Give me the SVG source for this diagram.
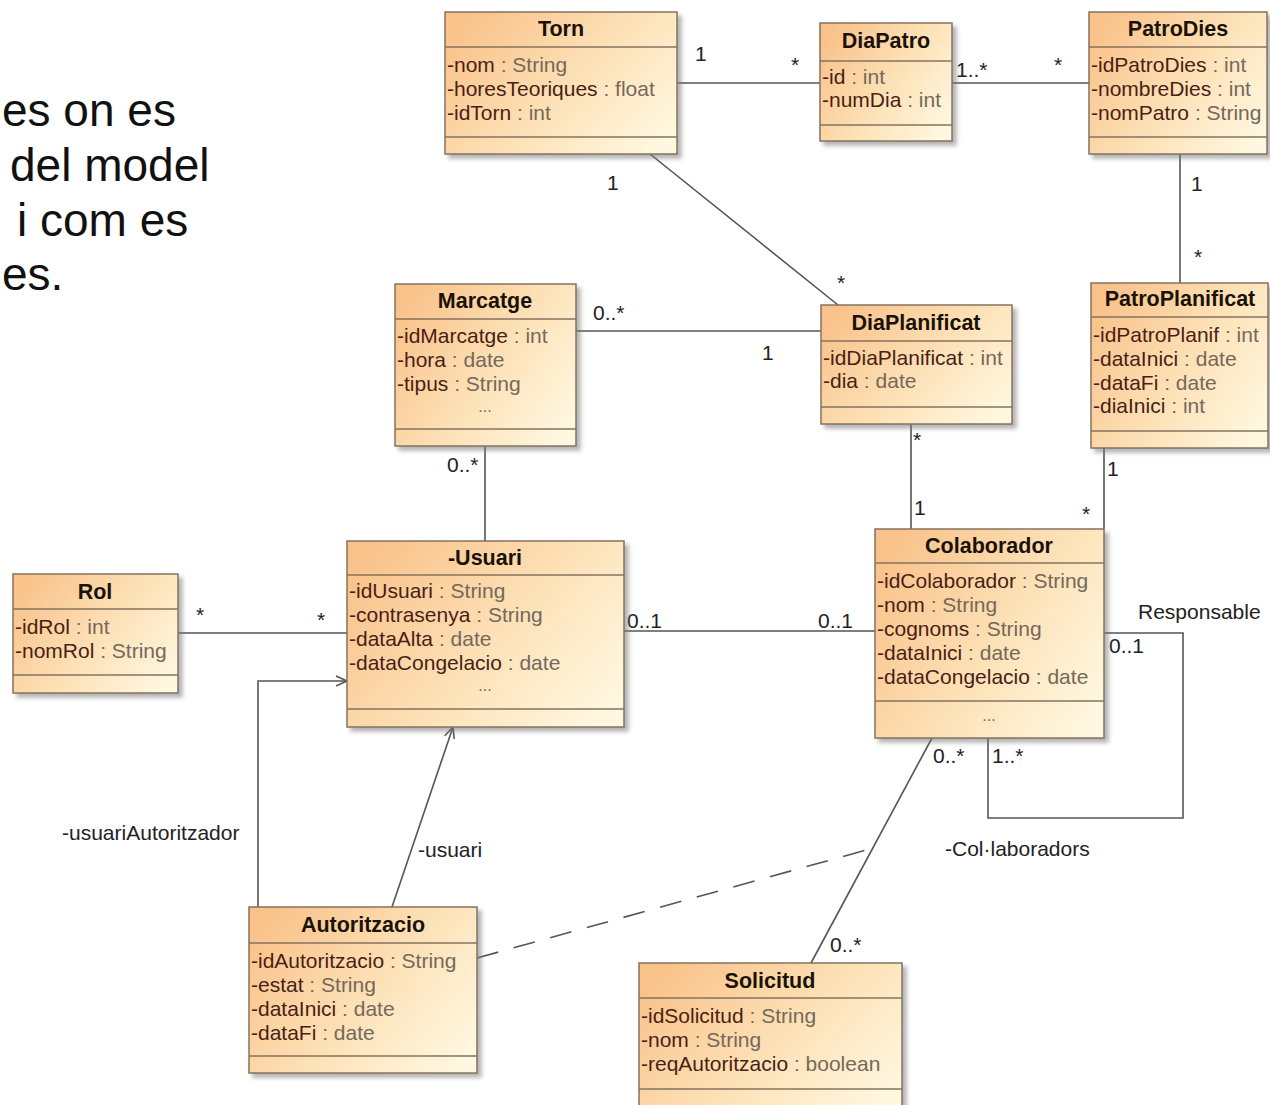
<svg xmlns="http://www.w3.org/2000/svg" width="1270" height="1105" viewBox="0 0 1270 1105">
<style>
.box{fill:url(#g);stroke:#85735f;stroke-width:1.5}
.sep{stroke:#85735f;stroke-width:1.5}
.ti{font-family:"Liberation Sans",Arial,sans-serif;font-weight:bold;font-size:21.5px;fill:#1a1208;text-anchor:middle}
.at{font-family:"Liberation Sans",Arial,sans-serif;font-size:21px}
.n{fill:#4a1e14}
.t{fill:#76685a}
.dots{font-family:"Liberation Sans",Arial,sans-serif;font-size:16px;fill:#76685a;text-anchor:middle}
.lb{font-family:"Liberation Sans",Arial,sans-serif;font-size:21px;fill:#222}
.ln{stroke:#555;stroke-width:1.6;fill:none}
.big{font-family:"Liberation Sans",Arial,sans-serif;font-size:46px;fill:#111}
</style>
<defs>
<linearGradient id="g" x1="0" y1="0.2" x2="1" y2="0.8">
<stop offset="0" stop-color="#f9c28a"/>
<stop offset="0.55" stop-color="#fde2b8"/>
<stop offset="1" stop-color="#fff7df"/>
</linearGradient>
<filter id="sh" x="-10%" y="-10%" width="130%" height="130%">
<feDropShadow dx="4" dy="4" stdDeviation="2" flood-color="#777" flood-opacity="0.55"/>
</filter>
<marker id="ar" markerWidth="14" markerHeight="14" refX="12" refY="6" orient="auto" markerUnits="userSpaceOnUse">
<path d="M1,1 L12,6 L1,11" fill="none" stroke="#555" stroke-width="1.6"/>
</marker>
</defs>
<rect width="1270" height="1105" fill="#fff"/>

<g id="intro">
<text class="big" x="2" y="126">es on es</text>
<text class="big" x="10" y="181">del model</text>
<text class="big" x="17" y="236">i com es</text>
<text class="big" x="2" y="290">es.</text>
</g>

<g id="connectors">
<line class="ln" x1="677" y1="83" x2="820" y2="83"/>
<text class="lb" x="695" y="61">1</text><text class="lb" x="791" y="72">*</text>
<line class="ln" x1="952" y1="83" x2="1089" y2="83"/>
<text class="lb" x="956" y="77">1..*</text><text class="lb" x="1054" y="72">*</text>
<line class="ln" x1="650" y1="154" x2="838" y2="305"/>
<text class="lb" x="607" y="190">1</text><text class="lb" x="837" y="290">*</text>
<line class="ln" x1="1180" y1="154" x2="1180" y2="283"/>
<text class="lb" x="1191" y="191">1</text><text class="lb" x="1194" y="264">*</text>
<line class="ln" x1="576" y1="331" x2="821" y2="331"/>
<text class="lb" x="593" y="320">0..*</text><text class="lb" x="762" y="360">1</text>
<line class="ln" x1="485" y1="446" x2="485" y2="541"/>
<text class="lb" x="447" y="472">0..*</text>
<line class="ln" x1="911" y1="424" x2="911" y2="529"/>
<text class="lb" x="913" y="447">*</text><text class="lb" x="914" y="515">1</text>
<line class="ln" x1="1104" y1="448" x2="1104" y2="529"/>
<text class="lb" x="1107" y="476">1</text><text class="lb" x="1082" y="521">*</text>
<line class="ln" x1="178" y1="633" x2="347" y2="633"/>
<text class="lb" x="196" y="622">*</text><text class="lb" x="317" y="627">*</text>
<line class="ln" x1="624" y1="631" x2="875" y2="631"/>
<text class="lb" x="627" y="628">0..1</text><text class="lb" x="818" y="628">0..1</text>
<polyline class="ln" points="1104,633 1183,633 1183,818 988,818 988,738"/>
<text class="lb" x="1138" y="619">Responsable</text>
<text class="lb" x="1109" y="653">0..1</text>
<text class="lb" x="992" y="763">1..*</text>
<text class="lb" x="945" y="856">-Col·laboradors</text>
<line class="ln" x1="932" y1="738" x2="811" y2="963"/>
<text class="lb" x="933" y="763">0..*</text>
<text class="lb" x="830" y="952">0..*</text>
<line class="ln" x1="477" y1="958" x2="870" y2="849" stroke-dasharray="22 16"/>
<polyline class="ln" points="258,907 258,681 347,681" marker-end="url(#ar)"/>
<text class="lb" x="62" y="840">-usuariAutoritzador</text>
<line class="ln" x1="392" y1="907" x2="453" y2="727" marker-end="url(#ar)"/>
<text class="lb" x="418" y="857">-usuari</text>
</g>

<g id="Torn">
<rect class="box" x="445" y="12" width="232" height="142" filter="url(#sh)"/>
<line class="sep" x1="445" y1="47" x2="677" y2="47"/><line class="sep" x1="445" y1="137" x2="677" y2="137"/>
<text class="ti" x="561" y="36">Torn</text>
<text class="at" x="447" y="72"><tspan class="n">-nom</tspan><tspan class="t"> : String</tspan></text>
<text class="at" x="447" y="96"><tspan class="n">-horesTeoriques</tspan><tspan class="t"> : float</tspan></text>
<text class="at" x="447" y="120"><tspan class="n">-idTorn</tspan><tspan class="t"> : int</tspan></text>
</g>

<g id="DiaPatro">
<rect class="box" x="820" y="23" width="132" height="118" filter="url(#sh)"/>
<line class="sep" x1="820" y1="61" x2="952" y2="61"/><line class="sep" x1="820" y1="125" x2="952" y2="125"/>
<text class="ti" x="886" y="48">DiaPatro</text>
<text class="at" x="822" y="84"><tspan class="n">-id</tspan><tspan class="t"> : int</tspan></text>
<text class="at" x="822" y="107"><tspan class="n">-numDia</tspan><tspan class="t"> : int</tspan></text>
</g>

<g id="PatroDies">
<rect class="box" x="1089" y="12" width="178" height="142" filter="url(#sh)"/>
<line class="sep" x1="1089" y1="47" x2="1267" y2="47"/><line class="sep" x1="1089" y1="137" x2="1267" y2="137"/>
<text class="ti" x="1178" y="36">PatroDies</text>
<text class="at" x="1091" y="72"><tspan class="n">-idPatroDies</tspan><tspan class="t"> : int</tspan></text>
<text class="at" x="1091" y="96"><tspan class="n">-nombreDies</tspan><tspan class="t"> : int</tspan></text>
<text class="at" x="1091" y="120"><tspan class="n">-nomPatro</tspan><tspan class="t"> : String</tspan></text>
</g>

<g id="Marcatge">
<rect class="box" x="395" y="284" width="181" height="162" filter="url(#sh)"/>
<line class="sep" x1="395" y1="319" x2="576" y2="319"/><line class="sep" x1="395" y1="429" x2="576" y2="429"/>
<text class="ti" x="485" y="308">Marcatge</text>
<text class="at" x="397" y="343"><tspan class="n">-idMarcatge</tspan><tspan class="t"> : int</tspan></text>
<text class="at" x="397" y="367"><tspan class="n">-hora</tspan><tspan class="t"> : date</tspan></text>
<text class="at" x="397" y="391"><tspan class="n">-tipus</tspan><tspan class="t"> : String</tspan></text>
<text class="dots" x="485" y="412">...</text>
</g>

<g id="DiaPlanificat">
<rect class="box" x="821" y="305" width="191" height="119" filter="url(#sh)"/>
<line class="sep" x1="821" y1="341" x2="1012" y2="341"/><line class="sep" x1="821" y1="407" x2="1012" y2="407"/>
<text class="ti" x="916" y="330">DiaPlanificat</text>
<text class="at" x="823" y="365"><tspan class="n">-idDiaPlanificat</tspan><tspan class="t"> : int</tspan></text>
<text class="at" x="823" y="388"><tspan class="n">-dia</tspan><tspan class="t"> : date</tspan></text>
</g>

<g id="PatroPlanificat">
<rect class="box" x="1091" y="283" width="177" height="165" filter="url(#sh)"/>
<line class="sep" x1="1091" y1="317" x2="1268" y2="317"/><line class="sep" x1="1091" y1="431" x2="1268" y2="431"/>
<text class="ti" x="1180" y="306">PatroPlanificat</text>
<text class="at" x="1093" y="342"><tspan class="n">-idPatroPlanif</tspan><tspan class="t"> : int</tspan></text>
<text class="at" x="1093" y="366"><tspan class="n">-dataInici</tspan><tspan class="t"> : date</tspan></text>
<text class="at" x="1093" y="390"><tspan class="n">-dataFi</tspan><tspan class="t"> : date</tspan></text>
<text class="at" x="1093" y="413"><tspan class="n">-diaInici</tspan><tspan class="t"> : int</tspan></text>
</g>

<g id="Rol">
<rect class="box" x="13" y="574" width="165" height="119" filter="url(#sh)"/>
<line class="sep" x1="13" y1="609" x2="178" y2="609"/><line class="sep" x1="13" y1="675" x2="178" y2="675"/>
<text class="ti" x="95" y="599">Rol</text>
<text class="at" x="15" y="634"><tspan class="n">-idRol</tspan><tspan class="t"> : int</tspan></text>
<text class="at" x="15" y="658"><tspan class="n">-nomRol</tspan><tspan class="t"> : String</tspan></text>
</g>

<g id="Usuari">
<rect class="box" x="347" y="541" width="277" height="186" filter="url(#sh)"/>
<line class="sep" x1="347" y1="575" x2="624" y2="575"/><line class="sep" x1="347" y1="709" x2="624" y2="709"/>
<text class="ti" x="485" y="565">-Usuari</text>
<text class="at" x="349" y="598"><tspan class="n">-idUsuari</tspan><tspan class="t"> : String</tspan></text>
<text class="at" x="349" y="622"><tspan class="n">-contrasenya</tspan><tspan class="t"> : String</tspan></text>
<text class="at" x="349" y="646"><tspan class="n">-dataAlta</tspan><tspan class="t"> : date</tspan></text>
<text class="at" x="349" y="670"><tspan class="n">-dataCongelacio</tspan><tspan class="t"> : date</tspan></text>
<text class="dots" x="485" y="691">...</text>
</g>

<g id="Colaborador">
<rect class="box" x="875" y="529" width="229" height="209" filter="url(#sh)"/>
<line class="sep" x1="875" y1="563" x2="1104" y2="563"/><line class="sep" x1="875" y1="701" x2="1104" y2="701"/>
<text class="ti" x="989" y="553">Colaborador</text>
<text class="at" x="877" y="588"><tspan class="n">-idColaborador</tspan><tspan class="t"> : String</tspan></text>
<text class="at" x="877" y="612"><tspan class="n">-nom</tspan><tspan class="t"> : String</tspan></text>
<text class="at" x="877" y="636"><tspan class="n">-cognoms</tspan><tspan class="t"> : String</tspan></text>
<text class="at" x="877" y="660"><tspan class="n">-dataInici</tspan><tspan class="t"> : date</tspan></text>
<text class="at" x="877" y="684"><tspan class="n">-dataCongelacio</tspan><tspan class="t"> : date</tspan></text>
<text class="dots" x="989" y="721">...</text>
</g>

<g id="Autoritzacio">
<rect class="box" x="249" y="907" width="228" height="166" filter="url(#sh)"/>
<line class="sep" x1="249" y1="943" x2="477" y2="943"/><line class="sep" x1="249" y1="1056" x2="477" y2="1056"/>
<text class="ti" x="363" y="932">Autoritzacio</text>
<text class="at" x="251" y="968"><tspan class="n">-idAutoritzacio</tspan><tspan class="t"> : String</tspan></text>
<text class="at" x="251" y="992"><tspan class="n">-estat</tspan><tspan class="t"> : String</tspan></text>
<text class="at" x="251" y="1016"><tspan class="n">-dataInici</tspan><tspan class="t"> : date</tspan></text>
<text class="at" x="251" y="1040"><tspan class="n">-dataFi</tspan><tspan class="t"> : date</tspan></text>
</g>

<g id="Solicitud">
<rect class="box" x="639" y="963" width="263" height="150" filter="url(#sh)"/>
<line class="sep" x1="639" y1="998" x2="902" y2="998"/><line class="sep" x1="639" y1="1089" x2="902" y2="1089"/>
<text class="ti" x="770" y="988">Solicitud</text>
<text class="at" x="641" y="1023"><tspan class="n">-idSolicitud</tspan><tspan class="t"> : String</tspan></text>
<text class="at" x="641" y="1047"><tspan class="n">-nom</tspan><tspan class="t"> : String</tspan></text>
<text class="at" x="641" y="1071"><tspan class="n">-reqAutoritzacio</tspan><tspan class="t"> : boolean</tspan></text>
</g>
</svg>
